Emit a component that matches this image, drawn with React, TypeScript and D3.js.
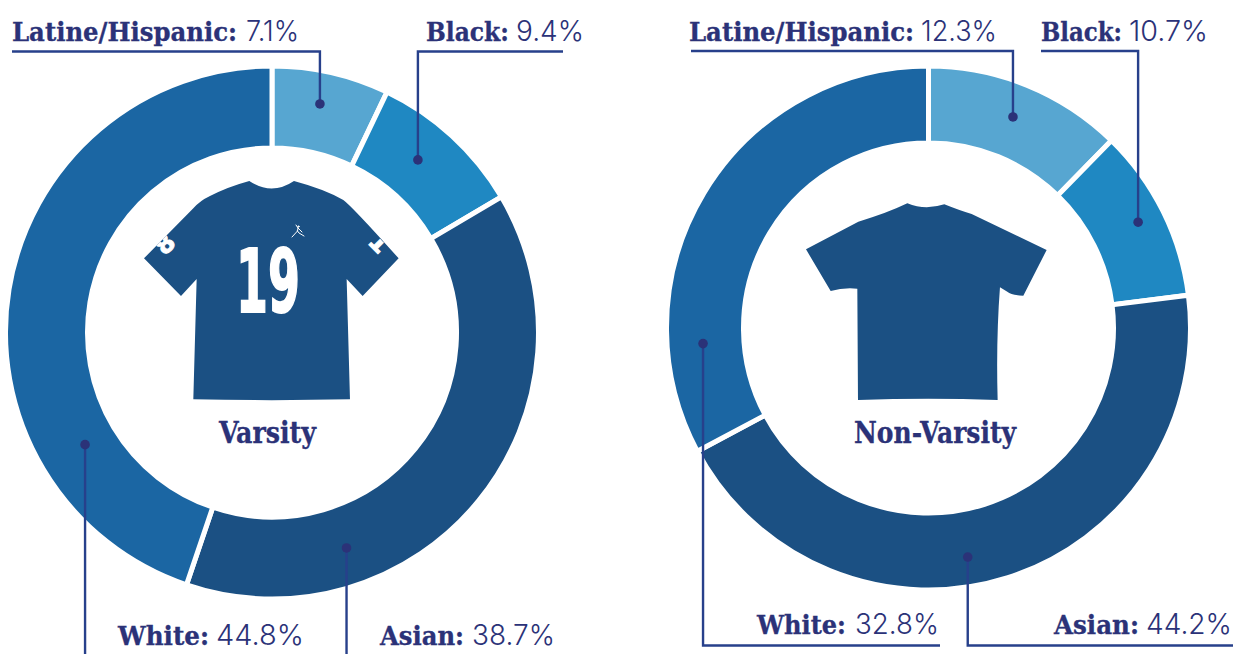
import React from "react";
import * as d3 from "d3";

const groups = ["Latine/Hispanic", "Black", "Asian", "White"];
const varsityValues = [7.1, 9.4, 38.7, 44.8];
const nonVarsityValues = [12.3, 10.7, 44.2, 32.8];
const colors = ["#57a6d1", "#1f88c2", "#1b5083", "#1b66a3"];
const TEXT = "#2b3278";
const LINE = "#27408b";
const SHIRT = "#1b5083";
const SERIF = "'DejaVu Serif', serif";
const SANS = "Inter, Lato, sans-serif";
const BLOCK = "'DejaVu Sans', sans-serif";

const pctToAngle = d3.scaleLinear().domain([0, 100]).range([0, 2 * Math.PI]);

type Leader = {
  pct: number;
  r: number;
  route: (p: [number, number]) => [number, number][];
  ty: number;
  name: [number, number];
  val: [number, number];
};

const leftLeaders: Leader[] = [
  { pct: 3.29, r: 233.5, route: (p) => [p, [p[0], 51.5], [12, 51.5]], ty: 41, name: [12, 225], val: [246, 53] },
  { pct: 11.17, r: 226, route: (p) => [p, [p[0], 51.5], [563, 51.5]], ty: 41, name: [426, 83], val: [516, 68] },
  { pct: 44.7, r: 228, route: (p) => [p, [p[0], 660]], ty: 645, name: [380, 84], val: [472, 83] },
  { pct: 66.4, r: 218, route: (p) => [p, [p[0], 660]], ty: 645, name: [118, 91], val: [216, 88] },
];
const rightLeaders: Leader[] = [
  { pct: 6.06, r: 227.3, route: (p) => [p, [p[0], 51], [691, 51]], ty: 41, name: [689, 225], val: [921, 76] },
  { pct: 17.56, r: 234.8, route: (p) => [p, [p[0], 51], [1041, 51]], ty: 41, name: [1041, 81], val: [1129, 79] },
  { pct: 47.3, r: 232.4, route: (p) => [p, [p[0], 645.5], [1233, 645.5]], ty: 634, name: [1054, 85], val: [1146, 86] },
  { pct: 73.9, r: 226, route: (p) => [p, [p[0], 645.5], [940, 645.5]], ty: 634, name: [757, 89], val: [855, 84] },
];

const pie = d3.pie<number>().sort(null).value((d) => d);
const lineGen = d3.line();

function Donut({ cx, cy, R, r, values, leaders }: { cx: number; cy: number; R: number; r: number; values: number[]; leaders: Leader[] }) {
  const arc = d3.arc<d3.PieArcDatum<number>>().innerRadius(r).outerRadius(R);
  const arcs = pie(values);
  return (
    <g>
      <g transform={`translate(${cx},${cy})`}>
        {arcs.map((a, i) => (
          <path key={i} d={arc(a) ?? ""} fill={colors[i]} stroke="#fff" strokeWidth={5} />
        ))}
      </g>
      {leaders.map((l, i) => {
        const a = pctToAngle(l.pct);
        const p: [number, number] = [cx + l.r * Math.sin(a), cy - l.r * Math.cos(a)];
        return (
          <g key={i}>
            <path d={lineGen(l.route(p)) ?? ""} fill="none" stroke={LINE} strokeWidth={2.4} />
            <circle cx={p[0]} cy={p[1]} r={4.8} fill={TEXT} />
            <text x={l.name[0]} y={l.ty} fill={TEXT} stroke={TEXT} strokeWidth={0.3} fontSize={25.5} fontFamily={SERIF} fontWeight={700} fontStretch="condensed" textLength={l.name[1]} lengthAdjust="spacingAndGlyphs">
              {groups[i]}:
            </text>
            <text x={l.val[0]} y={l.ty} fill={TEXT} fontSize={28} fontFamily={SANS} fontWeight={300} textLength={l.val[1]} lengthAdjust="spacingAndGlyphs">
              {values[i]}%
            </text>
          </g>
        );
      })}
    </g>
  );
}

export default function App() {
  return (
    <svg width={1260} height={654} style={{ position: "absolute", left: 0, top: 0, background: "#fff" }}>
      <defs>
        <clipPath id="sleeveClip">
          <path d="M190,115L42,265L153,378L200,327L200,100Z M640,90L806,265L698,378L650,327L650,100Z" transform="translate(130,170) scale(0.3333)" />
        </clipPath>
      </defs>
      <Donut cx={272} cy={332.5} R={266.5} r={184.5} values={varsityValues} leaders={leftLeaders} />
      <Donut cx={928.5} cy={328} R={262} r={185} values={nonVarsityValues} leaders={rightLeaders} />

      {/* Varsity shirt */}
      <g transform="translate(130,170) scale(0.3333)">
        <path
          fill={SHIRT}
          d="M358,33 Q425,78 492,33 Q585,58 640,90 Q665,108 806,265 L698,378 L650,327 L660,688 Q425,693 190,688 L200,327 L153,378 L42,265 L190,115 Q210,92 240,78 Q295,50 358,33Z"
        />
      </g>
      <text x={236} y={312} fill="#fff" stroke="#fff" strokeWidth={2} fontFamily={BLOCK} fontWeight={700} fontSize={88} textLength={64} lengthAdjust="spacingAndGlyphs">19</text>
      <g clipPath="url(#sleeveClip)">
        <text transform="translate(165,244) rotate(-45)" textAnchor="middle" dominantBaseline="central" fill="#fff" stroke="#fff" fontFamily={BLOCK} fontWeight={700} fontSize={25}>8</text>
        <text transform="translate(379,243) rotate(45)" textAnchor="middle" dominantBaseline="central" fill="#fff" stroke="#fff" fontFamily={BLOCK} fontWeight={700} fontSize={25}>1</text>
      </g>
      <g stroke="#fff" strokeWidth={1} fill="none" strokeLinecap="round">
        <path d="M298,228L297.5,231L292,237 M297.5,231L299,233L304,236 M298,228L296,225 M298,228L302,232" />
        <circle cx={298.5} cy={226.5} r={0.6} fill="#fff" />
      </g>
      <text x={219} y={443} fill={TEXT} stroke={TEXT} strokeWidth={0.3} fontFamily={SERIF} fontWeight={700} fontStretch="condensed" fontSize={29} textLength={97} lengthAdjust="spacingAndGlyphs">Varsity</text>

      {/* Non-varsity shirt */}
      <g transform="translate(790,190) scale(0.3333)">
        <path
          fill={SHIRT}
          d="M352,40 Q405,62 463,43 Q510,62 545,72 L770,180 L700,317 Q665,316 652,305 L630,292 Q618,450 623,630 Q415,622 204,630 L202,296 Q160,292 122,303 L48,178 L205,95 Q290,70 352,40Z"
        />
      </g>
      <text x={854} y={443} fill={TEXT} stroke={TEXT} strokeWidth={0.3} fontFamily={SERIF} fontWeight={700} fontStretch="condensed" fontSize={29} textLength={162} lengthAdjust="spacingAndGlyphs">Non-Varsity</text>
    </svg>
  );
}
